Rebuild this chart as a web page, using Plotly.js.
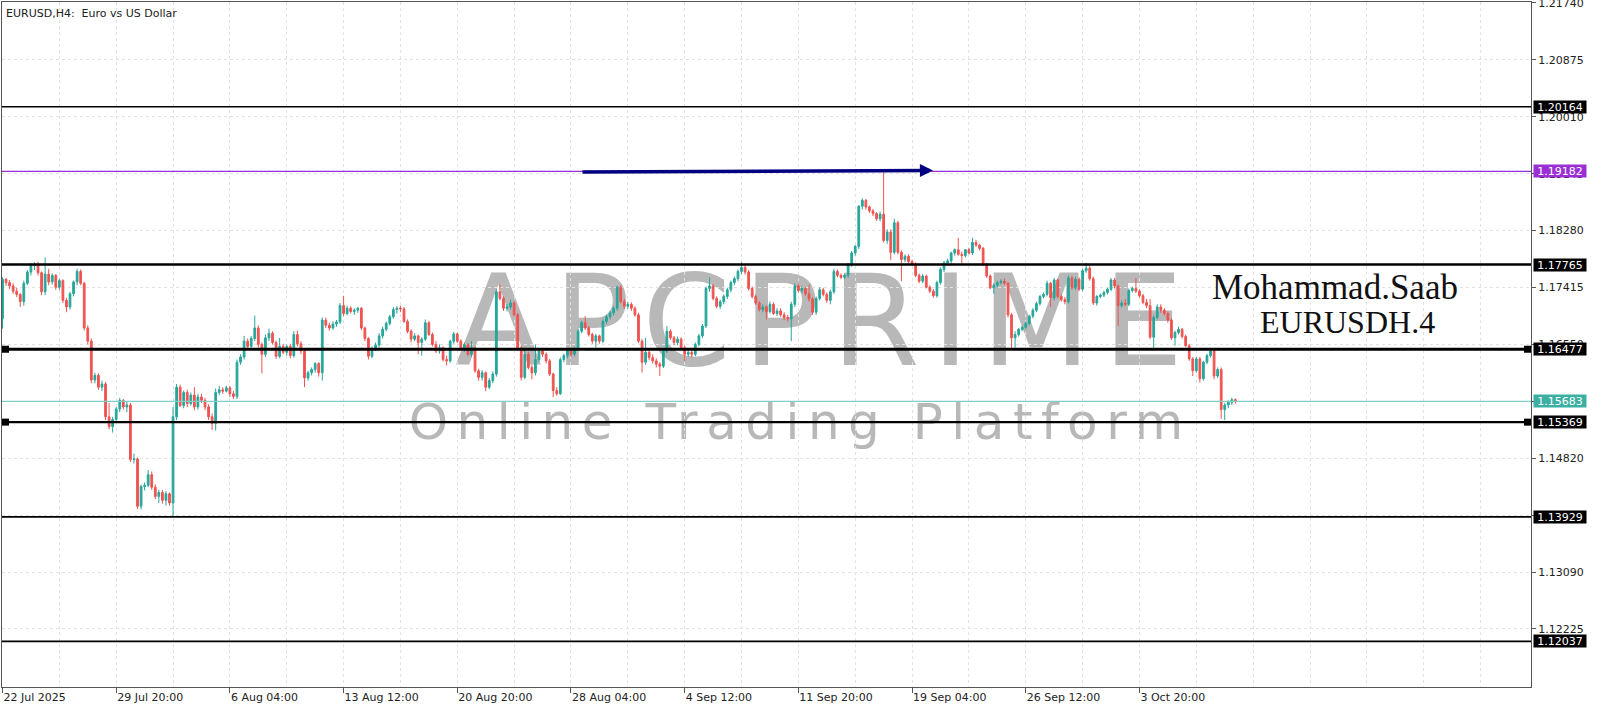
<!DOCTYPE html>
<html><head><meta charset="utf-8">
<script src="https://cdn.plot.ly/plotly-3.0.1.min.js"></script>
<style>html,body{margin:0;padding:0;background:#fff;}#chart{width:1600px;height:711px;}</style>
</head><body><div id="chart"></div>
<script>
// ---- data (EURUSD H4, bar index 0 = 22 Jul 2025 12:00) ----
const open = [
1.1694,1.1754,1.1749,1.1744,1.1736,1.1731,1.1720,1.1748,1.1765,1.1775,
1.1777,1.1764,1.1735,1.1762,1.1750,1.1760,1.1742,1.1752,1.1722,1.1712,
1.1732,1.1750,1.1766,1.1748,1.1680,1.1660,1.1601,1.1608,1.1590,1.1595,
1.1545,1.1530,1.1541,1.1557,1.1570,1.1560,1.1563,1.1480,1.1481,1.1409,
1.1439,1.1441,1.1457,1.1438,1.1424,1.1430,1.1418,1.1428,1.1414,1.1545,
1.1590,1.1562,1.1582,1.1565,1.1578,1.1560,1.1575,1.1570,1.1560,1.1545,
1.1535,1.1582,1.1586,1.1584,1.1589,1.1580,1.1576,1.1628,1.1636,1.1660,
1.1652,1.1664,1.1680,1.1655,1.1640,1.1665,1.1672,1.1658,1.1637,1.1652,
1.1643,1.1652,1.1638,1.1670,1.1656,1.1645,1.1604,1.1612,1.1617,1.1626,
1.1612,1.1692,1.1684,1.1680,1.1686,1.1689,1.1714,1.1702,1.1710,1.1705,
1.1707,1.1710,1.1680,1.1664,1.1637,1.1649,1.1654,1.1668,1.1678,1.1687,
1.1697,1.1708,1.1710,1.1709,1.1690,1.1675,1.1663,1.1668,1.1658,1.1663,
1.1688,1.1670,1.1655,1.1645,1.1650,1.1632,1.1630,1.1660,1.1671,1.1660,
1.1648,1.1655,1.1640,1.1650,1.1615,1.1605,1.1612,1.1590,1.1600,1.1610,
1.1735,1.1725,1.1710,1.1712,1.1718,1.1700,1.1650,1.1605,1.1640,1.1620,
1.1612,1.1632,1.1645,1.1640,1.1630,1.1610,1.1585,1.1580,1.1632,1.1638,
1.1645,1.1640,1.1648,1.1675,1.1688,1.1680,1.1670,1.1660,1.1668,1.1660,
1.1690,1.1697,1.1703,1.1710,1.1742,1.1720,1.1713,1.1716,1.1710,1.1700,
1.1660,1.1628,1.1643,1.1635,1.1630,1.1625,1.1622,1.1645,1.1675,1.1665,
1.1658,1.1663,1.1650,1.1640,1.1643,1.1640,1.1655,1.1668,1.1683,1.1740,
1.1744,1.1725,1.1713,1.1720,1.1728,1.1738,1.1749,1.1755,1.1766,1.1772,
1.1765,1.1740,1.1728,1.1718,1.1708,1.1712,1.1705,1.1716,1.1702,1.1706,
1.1700,1.1696,1.1694,1.1716,1.1744,1.1737,1.1740,1.1732,1.1724,1.1704,
1.1725,1.1738,1.1731,1.1722,1.1735,1.1766,1.1760,1.1757,1.1760,1.1777,
1.1794,1.1804,1.1865,1.1874,1.1864,1.1858,1.1854,1.1846,1.1853,1.1813,
1.1826,1.1795,1.1840,1.1795,1.1784,1.1789,1.1781,1.1777,1.1760,1.1751,
1.1759,1.1742,1.1736,1.1729,1.1749,1.1769,1.1779,1.1782,1.1794,1.1799,
1.1792,1.1790,1.1799,1.1794,1.1810,1.1806,1.1801,1.1777,1.1759,1.1741,
1.1745,1.1749,1.1751,1.1748,1.1700,1.1665,1.1670,1.1678,1.1681,1.1687,
1.1698,1.1707,1.1717,1.1728,1.1731,1.1748,1.1726,1.1753,1.1728,1.1723,
1.1720,1.1756,1.1741,1.1754,1.1739,1.1767,1.1771,1.1755,1.1718,1.1728,
1.1730,1.1734,1.1739,1.1753,1.1744,1.1714,1.1718,1.1716,1.1737,1.1740,
1.1736,1.1729,1.1719,1.1714,1.1666,1.1696,1.1712,1.1707,1.1702,1.1692,
1.1665,1.1673,1.1678,1.1667,1.1653,1.1633,1.1615,1.1633,1.1603,1.1628,
1.1638,1.1645,1.1607,1.1617,1.1556,1.1563,1.1567,1.1571];
const high = [
1.1757,1.1756,1.1753,1.1748,1.1741,1.1733,1.1752,1.1768,1.1779,1.1780,
1.1781,1.1766,1.1787,1.1770,1.1763,1.1762,1.1755,1.1754,1.1726,1.1735,
1.1752,1.1770,1.1769,1.1750,1.1684,1.1664,1.1612,1.1611,1.1600,1.1598,
1.1566,1.1545,1.1560,1.1574,1.1572,1.1568,1.1566,1.1489,1.1483,1.1442,
1.1445,1.1464,1.1462,1.1442,1.1434,1.1434,1.1432,1.1430,1.1560,1.1595,
1.1594,1.1585,1.1586,1.1582,1.1590,1.1580,1.1580,1.1574,1.1564,1.1550,
1.1588,1.1592,1.1590,1.1592,1.1592,1.1584,1.1632,1.1640,1.1668,1.1664,
1.1668,1.1699,1.1684,1.1658,1.1670,1.1679,1.1675,1.1661,1.1665,1.1656,
1.1655,1.1656,1.1675,1.1676,1.1660,1.1648,1.1615,1.1620,1.1628,1.1628,
1.1696,1.1696,1.1688,1.1690,1.1692,1.1718,1.1729,1.1714,1.1713,1.1710,
1.1712,1.1712,1.1682,1.1666,1.1652,1.1658,1.1672,1.1682,1.1690,1.1700,
1.1712,1.1713,1.1714,1.1712,1.1693,1.1678,1.1672,1.1670,1.1666,1.1693,
1.1691,1.1673,1.1660,1.1655,1.1652,1.1638,1.1662,1.1674,1.1673,1.1663,
1.1658,1.1657,1.1660,1.1652,1.1618,1.1616,1.1614,1.1604,1.1614,1.1739,
1.1746,1.1728,1.1716,1.1723,1.1721,1.1703,1.1653,1.1650,1.1644,1.1624,
1.1655,1.1648,1.1648,1.1643,1.1633,1.1612,1.1590,1.1635,1.1641,1.1648,
1.1648,1.1651,1.1678,1.1691,1.1698,1.1683,1.1673,1.1671,1.1670,1.1693,
1.1700,1.1706,1.1713,1.1744,1.1745,1.1724,1.1720,1.1719,1.1713,1.1703,
1.1663,1.1665,1.1647,1.1640,1.1634,1.1628,1.1648,1.1683,1.1678,1.1668,
1.1667,1.1666,1.1653,1.1647,1.1646,1.1658,1.1671,1.1686,1.1743,1.1757,
1.1747,1.1728,1.1723,1.1731,1.1741,1.1752,1.1758,1.1769,1.1780,1.1775,
1.1768,1.1743,1.1731,1.1721,1.1716,1.1715,1.1720,1.1719,1.1710,1.1710,
1.1704,1.1700,1.1720,1.1748,1.1747,1.1743,1.1742,1.1746,1.1727,1.1728,
1.1742,1.1741,1.1734,1.1738,1.1770,1.1769,1.1763,1.1762,1.1779,1.1797,
1.1806,1.1867,1.1877,1.1876,1.1866,1.1861,1.1856,1.1857,1.1920,1.1830,
1.1830,1.1846,1.1843,1.1798,1.1792,1.1792,1.1784,1.1780,1.1763,1.1762,
1.1761,1.1745,1.1739,1.1752,1.1772,1.1782,1.1785,1.1796,1.1801,1.1817,
1.1796,1.1800,1.1802,1.1817,1.1814,1.1808,1.1803,1.1779,1.1761,1.1748,
1.1752,1.1754,1.1755,1.1750,1.1703,1.1675,1.1680,1.1684,1.1690,1.1700,
1.1710,1.1720,1.1730,1.1734,1.1752,1.1750,1.1756,1.1755,1.1731,1.1727,
1.1760,1.1759,1.1758,1.1757,1.1770,1.1779,1.1774,1.1758,1.1730,1.1732,
1.1737,1.1741,1.1756,1.1756,1.1746,1.1722,1.1724,1.1740,1.1743,1.1756,
1.1739,1.1732,1.1724,1.1724,1.1699,1.1716,1.1716,1.1710,1.1705,1.1695,
1.1676,1.1682,1.1680,1.1670,1.1656,1.1636,1.1636,1.1636,1.1630,1.1641,
1.1648,1.1648,1.1620,1.1620,1.1566,1.1570,1.1574,1.1573];
const low = [
1.1679,1.1744,1.1739,1.1732,1.1727,1.1712,1.1714,1.1745,1.1760,1.1768,
1.1760,1.1730,1.1730,1.1745,1.1746,1.1738,1.1738,1.1718,1.1704,1.1708,
1.1728,1.1745,1.1745,1.1676,1.1655,1.1596,1.1596,1.1586,1.1584,1.1540,
1.1526,1.1521,1.1538,1.1552,1.1556,1.1552,1.1476,1.1474,1.1405,1.1404,
1.1433,1.1438,1.1434,1.1420,1.1414,1.1413,1.1410,1.1410,1.1393,1.1540,
1.1560,1.1558,1.1560,1.1562,1.1555,1.1556,1.1566,1.1555,1.1540,1.1525,
1.1524,1.1578,1.1580,1.1582,1.1575,1.1572,1.1572,1.1624,1.1632,1.1648,
1.1650,1.1660,1.1650,1.1611,1.1636,1.1660,1.1655,1.1633,1.1634,1.1640,
1.1638,1.1634,1.1635,1.1652,1.1640,1.1590,1.1600,1.1608,1.1612,1.1606,
1.1600,1.1680,1.1676,1.1677,1.1682,1.1686,1.1698,1.1699,1.1702,1.1700,
1.1703,1.1677,1.1660,1.1632,1.1634,1.1645,1.1650,1.1664,1.1675,1.1684,
1.1694,1.1702,1.1704,1.1688,1.1672,1.1658,1.1660,1.1640,1.1638,1.1660,
1.1668,1.1652,1.1642,1.1641,1.1629,1.1623,1.1627,1.1656,1.1657,1.1645,
1.1644,1.1637,1.1636,1.1612,1.1600,1.1600,1.1584,1.1587,1.1596,1.1606,
1.1722,1.1706,1.1705,1.1708,1.1697,1.1646,1.1600,1.1602,1.1617,1.1602,
1.1608,1.1628,1.1636,1.1626,1.1607,1.1575,1.1577,1.1578,1.1628,1.1634,
1.1636,1.1637,1.1645,1.1672,1.1677,1.1667,1.1656,1.1650,1.1656,1.1657,
1.1686,1.1693,1.1699,1.1706,1.1717,1.1709,1.1709,1.1706,1.1697,1.1657,
1.1612,1.1624,1.1631,1.1626,1.1620,1.1607,1.1619,1.1642,1.1662,1.1654,
1.1654,1.1647,1.1630,1.1636,1.1635,1.1637,1.1652,1.1665,1.1680,1.1735,
1.1722,1.1710,1.1709,1.1716,1.1724,1.1734,1.1745,1.1751,1.1762,1.1761,
1.1737,1.1725,1.1715,1.1705,1.1704,1.1693,1.1702,1.1700,1.1698,1.1697,
1.1692,1.1690,1.1660,1.1712,1.1734,1.1733,1.1729,1.1720,1.1700,1.1700,
1.1722,1.1728,1.1718,1.1716,1.1732,1.1757,1.1754,1.1754,1.1756,1.1773,
1.1790,1.1800,1.1860,1.1860,1.1855,1.1850,1.1843,1.1842,1.1810,1.1808,
1.1783,1.1792,1.1792,1.1751,1.1780,1.1778,1.1774,1.1757,1.1748,1.1748,
1.1740,1.1733,1.1726,1.1726,1.1746,1.1765,1.1775,1.1778,1.1790,1.1790,
1.1778,1.1787,1.1792,1.1791,1.1803,1.1798,1.1774,1.1756,1.1739,1.1732,
1.1742,1.1746,1.1745,1.1696,1.1648,1.1650,1.1667,1.1675,1.1678,1.1684,
1.1695,1.1704,1.1714,1.1725,1.1728,1.1712,1.1722,1.1725,1.1720,1.1716,
1.1717,1.1738,1.1738,1.1736,1.1736,1.1764,1.1752,1.1715,1.1714,1.1725,
1.1727,1.1731,1.1736,1.1740,1.1683,1.1711,1.1713,1.1713,1.1734,1.1733,
1.1726,1.1716,1.1710,1.1663,1.1650,1.1693,1.1703,1.1699,1.1688,1.1662,
1.1653,1.1670,1.1664,1.1651,1.1630,1.1607,1.1612,1.1597,1.1600,1.1625,
1.1635,1.1602,1.1604,1.1542,1.1540,1.1558,1.1563,1.1565];
const close = [
1.1754,1.1749,1.1744,1.1736,1.1731,1.1720,1.1748,1.1765,1.1775,1.1777,
1.1764,1.1735,1.1762,1.1750,1.1760,1.1742,1.1752,1.1722,1.1712,1.1732,
1.1750,1.1766,1.1748,1.1680,1.1660,1.1601,1.1608,1.1590,1.1595,1.1545,
1.1530,1.1541,1.1557,1.1570,1.1560,1.1563,1.1480,1.1481,1.1409,1.1439,
1.1441,1.1457,1.1438,1.1424,1.1430,1.1418,1.1428,1.1414,1.1545,1.1590,
1.1562,1.1582,1.1565,1.1578,1.1560,1.1575,1.1570,1.1560,1.1545,1.1535,
1.1582,1.1586,1.1584,1.1589,1.1580,1.1576,1.1628,1.1636,1.1660,1.1652,
1.1664,1.1680,1.1655,1.1640,1.1665,1.1672,1.1658,1.1637,1.1652,1.1643,
1.1652,1.1638,1.1670,1.1656,1.1645,1.1604,1.1612,1.1617,1.1626,1.1612,
1.1692,1.1684,1.1680,1.1686,1.1689,1.1714,1.1702,1.1710,1.1705,1.1707,
1.1710,1.1680,1.1664,1.1637,1.1649,1.1654,1.1668,1.1678,1.1687,1.1697,
1.1708,1.1710,1.1709,1.1690,1.1675,1.1663,1.1668,1.1658,1.1663,1.1688,
1.1670,1.1655,1.1645,1.1650,1.1632,1.1630,1.1660,1.1671,1.1660,1.1648,
1.1655,1.1640,1.1650,1.1615,1.1605,1.1612,1.1590,1.1600,1.1610,1.1735,
1.1725,1.1710,1.1712,1.1718,1.1700,1.1650,1.1605,1.1640,1.1620,1.1612,
1.1632,1.1645,1.1640,1.1630,1.1610,1.1585,1.1580,1.1632,1.1638,1.1645,
1.1640,1.1648,1.1675,1.1688,1.1680,1.1670,1.1660,1.1668,1.1660,1.1690,
1.1697,1.1703,1.1710,1.1742,1.1720,1.1713,1.1716,1.1710,1.1700,1.1660,
1.1628,1.1643,1.1635,1.1630,1.1625,1.1622,1.1645,1.1675,1.1665,1.1658,
1.1663,1.1650,1.1640,1.1643,1.1640,1.1655,1.1668,1.1683,1.1740,1.1744,
1.1725,1.1713,1.1720,1.1728,1.1738,1.1749,1.1755,1.1766,1.1772,1.1765,
1.1740,1.1728,1.1718,1.1708,1.1712,1.1705,1.1716,1.1702,1.1706,1.1700,
1.1696,1.1694,1.1716,1.1744,1.1737,1.1740,1.1732,1.1724,1.1704,1.1725,
1.1738,1.1731,1.1722,1.1735,1.1766,1.1760,1.1757,1.1760,1.1777,1.1794,
1.1804,1.1865,1.1874,1.1864,1.1858,1.1854,1.1846,1.1853,1.1813,1.1826,
1.1795,1.1840,1.1795,1.1784,1.1789,1.1781,1.1777,1.1760,1.1751,1.1759,
1.1742,1.1736,1.1729,1.1749,1.1769,1.1779,1.1782,1.1794,1.1799,1.1792,
1.1790,1.1799,1.1794,1.1810,1.1806,1.1801,1.1777,1.1759,1.1741,1.1745,
1.1749,1.1751,1.1748,1.1700,1.1665,1.1670,1.1678,1.1681,1.1687,1.1698,
1.1707,1.1717,1.1728,1.1731,1.1748,1.1726,1.1753,1.1728,1.1723,1.1720,
1.1756,1.1741,1.1754,1.1739,1.1767,1.1771,1.1755,1.1718,1.1728,1.1730,
1.1734,1.1739,1.1753,1.1744,1.1714,1.1718,1.1716,1.1737,1.1740,1.1736,
1.1729,1.1719,1.1714,1.1666,1.1696,1.1712,1.1707,1.1702,1.1692,1.1665,
1.1673,1.1678,1.1667,1.1653,1.1633,1.1615,1.1633,1.1603,1.1628,1.1638,
1.1645,1.1607,1.1617,1.1556,1.1563,1.1567,1.1571,1.1568];

const tickBars   = [0, 32, 64, 96, 128, 160, 192, 224, 256, 288, 320];
const tickLabels = ['22 Jul 2025','29 Jul 20:00','6 Aug 04:00','13 Aug 12:00','20 Aug 20:00',
                    '28 Aug 04:00','4 Sep 12:00','11 Sep 20:00','19 Sep 04:00','26 Sep 12:00','3 Oct 20:00'];
const priceTicks  = [1.21740,1.20875,1.20010,1.19145,1.18280,1.17415,1.16550,1.15685,1.14820,1.13955,1.13090,1.12225];
const priceLabels = ['1.21740','1.20875','1.20010','1.19145','1.18280','1.17415','1.16550','1.15685','1.14820','1.13955','1.13090','1.12225'];
const levels      = [1.20164, 1.19182, 1.17765, 1.16477, 1.15683, 1.15369, 1.13929, 1.12037];
const levelLabels = ['1.20164','1.19182','1.17765','1.16477','1.15683','1.15369','1.13929','1.12037'];
const markedLevels = [1.16477, 1.15369];
const arrowFrom = [162.8, 1.19172];
const arrowTo   = [261.9, 1.19195];

// ---- styles ----
const levelColors = ['#000000','#9a2fd5','#000000','#000000','#7fcfc6','#000000','#000000','#000000'];
const levelWidths = [1.5, 1.2, 2.5, 3, 1.2, 2.2, 1.6, 1.6];
const labelBg     = ['#000000','#9a2fd5','#000000','#000000','#3aafa2','#000000','#000000','#000000'];

const xIdx = close.map((_, i) => i);

const candle = {
  type: 'candlestick', x: xIdx, open: open, high: high, low: low, close: close,
  increasing: {line: {color: '#26a69a', width: 1}, fillcolor: '#26a69a'},
  decreasing: {line: {color: '#ef5350', width: 1}, fillcolor: '#ef5350'},
  whiskerwidth: 0, hoverinfo: 'skip', showlegend: false
};

const shapes = [];
// watermark (below the candles)
shapes.push({type: 'rect', xref: 'x', yref: 'y', layer: 'below',
  x0: 181.5, x1: 281.5, y0: 1.1654, y1: 1.1754, line: {width: 0}, fillcolor: 'rgba(0,0,0,0)',
  label: {text: 'APCPRIME', textposition: 'middle center',
          font: {family: 'DejaVu Sans', size: 127, color: '#b8b8b8'}}});
shapes.push({type: 'rect', xref: 'x', yref: 'y', layer: 'below',
  x0: 174.5, x1: 274.5, y0: 1.1493, y1: 1.1593, line: {width: 0}, fillcolor: 'rgba(0,0,0,0)',
  label: {text: 'Online Trading Platform', textposition: 'middle center',
          font: {family: 'DejaVu Sans', size: 50, color: '#b8b8b8'}}});

levels.forEach((lv, i) => {
  shapes.push({type: 'line', xref: 'paper', yref: 'y', x0: 0, x1: 1, y0: lv, y1: lv,
    line: {color: levelColors[i], width: levelWidths[i]}});
});
markedLevels.forEach(lv => {
  shapes.push({type: 'rect', xref: 'paper', yref: 'y', xsizemode: 'pixel', xanchor: 0, x0: 0, x1: 7,
    ysizemode: 'pixel', yanchor: lv, y0: -3.5, y1: 3.5, fillcolor: '#000', line: {width: 0}});
  shapes.push({type: 'rect', xref: 'paper', yref: 'y', xsizemode: 'pixel', xanchor: 1, x0: -7, x1: 0,
    ysizemode: 'pixel', yanchor: lv, y0: -3.5, y1: 3.5, fillcolor: '#000', line: {width: 0}});
});

const annotations = [];
annotations.push({xref: 'paper', yref: 'paper', x: 0, y: 1, xanchor: 'left', yanchor: 'top',
  xshift: 2, yshift: -3, showarrow: false, text: 'EURUSD,H4:\u00a0 Euro vs US Dollar',
  font: {family: 'DejaVu Sans', size: 11, color: '#222'}});
levels.forEach((lv, i) => {
  annotations.push({xref: 'paper', yref: 'y', x: 1, y: lv, xanchor: 'left', yanchor: 'middle',
    xshift: 2, showarrow: false, text: levelLabels[i], bgcolor: labelBg[i],
    width: 52, height: 12, borderpad: 0, align: 'center',
    font: {family: 'DejaVu Sans', size: 11, color: '#ffffff'}});
});
annotations.push({xref: 'paper', yref: 'paper', x: 0.8718, y: 0.5825, xanchor: 'center', yanchor: 'middle',
  showarrow: false, text: 'Mohammad.Saab', font: {family: 'Liberation Serif', size: 35, color: '#111'}});
annotations.push({xref: 'paper', yref: 'paper', x: 0.8803, y: 0.5328, xanchor: 'center', yanchor: 'middle',
  showarrow: false, text: 'EURUSDH.4', font: {family: 'Liberation Serif', size: 32, color: '#111'}});
annotations.push({xref: 'x', yref: 'y', axref: 'x', ayref: 'y',
  x: arrowTo[0], y: arrowTo[1], ax: arrowFrom[0], ay: arrowFrom[1],
  text: '', showarrow: true, arrowhead: 2, arrowsize: 0.75, arrowwidth: 3.5, arrowcolor: '#000080'});

const layout = {
  width: 1600, height: 711,
  margin: {l: 2, r: 69, t: 2, b: 24, pad: 0},
  paper_bgcolor: '#ffffff', plot_bgcolor: '#ffffff',
  showlegend: false,
  font: {family: 'DejaVu Sans', size: 11, color: '#222'},
  xaxis: {
    range: [-0.14, 430.2], rangeslider: {visible: false}, fixedrange: true,
    tickmode: 'array', tickvals: tickBars, ticktext: tickLabels,
    ticklabelposition: 'outside right',
    ticks: 'outside', ticklen: 5, tickcolor: '#555', tickwidth: 1,
    tickfont: {family: 'DejaVu Sans', size: 11, color: '#222'},
    showline: true, linecolor: '#555', linewidth: 1, mirror: true,
    showgrid: true, gridcolor: '#e2e2e2', griddash: 'dot', gridwidth: 1,
    minor: {tick0: 0, dtick: 16, showgrid: true, gridcolor: '#e2e2e2', griddash: 'dot', ticks: ''},
    zeroline: false
  },
  yaxis: {
    side: 'right', range: [1.11343, 1.21755], fixedrange: true,
    tickmode: 'array', tickvals: priceTicks, ticktext: priceLabels,
    ticks: 'outside', ticklen: 4, tickcolor: '#555',
    ticklabeloverflow: 'allow',
    tickfont: {family: 'DejaVu Sans', size: 11, color: '#222'},
    showline: true, linecolor: '#555', linewidth: 1, mirror: true,
    showgrid: true, gridcolor: '#e2e2e2', griddash: 'dot', gridwidth: 1,
    zeroline: false
  },
  shapes: shapes,
  annotations: annotations
};

Plotly.newPlot('chart', [candle], layout, {staticPlot: true, displayModeBar: false}).then(() => {
  document.querySelectorAll('#chart text').forEach(t => {
    if (t.textContent === 'APCPRIME') t.style.letterSpacing = '12px';
    if (t.textContent === 'Online Trading Platform') t.style.letterSpacing = '8.5px';
  });
});
</script>
</body></html>
